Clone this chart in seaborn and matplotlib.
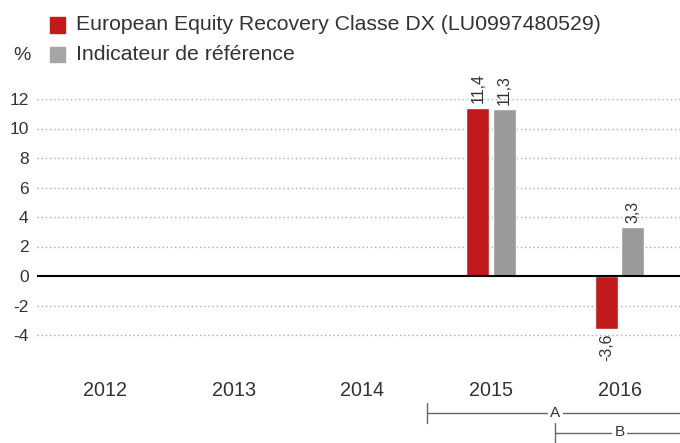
import matplotlib
matplotlib.use("Agg")
import matplotlib.pyplot as plt
import matplotlib.transforms as mtransforms
from matplotlib.patches import Rectangle
from matplotlib.lines import Line2D
import numpy as np
import pandas as pd
import seaborn as sns

years = ["2012", "2013", "2014", "2015", "2016"]
fund_name = "European Equity Recovery Classe DX (LU0997480529)"
bench_name = "Indicateur de référence"
fund_values = [np.nan, np.nan, np.nan, 11.4, -3.6]
bench_values = [np.nan, np.nan, np.nan, 11.3, 3.3]
y_ticks = [-4, -2, 0, 2, 4, 6, 8, 10, 12]
periods = [("A", 2.5, 4.5), ("B", 3.5, 4.5)]

RED = "#C21A1A"
GREY = "#9A9A9A"
TXT = "#333333"

sns.set_theme(style="white")
plt.rcParams["font.family"] = ["Liberation Sans", "DejaVu Sans"]
plt.rcParams["axes.unicode_minus"] = False

df = pd.DataFrame({
    "year": years * 2,
    "serie": [fund_name] * len(years) + [bench_name] * len(years),
    "value": fund_values + bench_values,
})

W, H = 680, 443
fig = plt.figure(figsize=(W / 100, H / 100), dpi=100)
ax_left, ax_right, ax_top, ax_bottom = 37, 680, 99, 370
ax = fig.add_axes([ax_left / W, 1 - ax_bottom / H, (ax_right - ax_left) / W, (ax_bottom - ax_top) / H])

sns.barplot(data=df.dropna(), x="year", y="value", hue="serie", order=years,
            hue_order=[fund_name, bench_name], palette=[RED, GREY],
            width=0.41, gap=0.13, ax=ax, legend=False, saturation=1)

ymin = -(ax_bottom - 276) / ((276 - ax_top) / 12)
ax.set_ylim(ymin, 12)
step = 128.75
ax.set_xlim(-0.5 - (40.6 - ax_left) / step, 4.5 - (684 - ax_right) / step)
for s in ax.spines.values():
    s.set_visible(False)
for t in y_ticks:
    if t == 0:
        ax.axhline(0, color="black", lw=1.5, zorder=3)
    else:
        ax.axhline(t, color="#AAAAAA", lw=1, ls=(0, (1, 2)), zorder=0)
ax.set_yticks(y_ticks)
ax.set_yticklabels([str(t) for t in y_ticks])
ax.tick_params(axis="y", length=0, pad=6, labelsize=12.5, labelcolor=TXT)
ax.tick_params(axis="x", length=0, pad=8, labelsize=14.2, labelcolor=TXT)
ax.set_xlabel("")
ax.set_ylabel("")

# value labels
for cont in ax.containers:
    for bar in cont:
        h = bar.get_height()
        if np.isnan(h):
            continue
        x = bar.get_x() + bar.get_width() / 2
        lab = f"{h:.1f}".replace(".", ",")
        if h >= 0:
            ax.text(x, h + 0.3, lab, rotation=90, ha="center", va="bottom",
                    fontsize=11.5, color=TXT, clip_on=False)
        else:
            ax.text(x, h - 0.3, lab, rotation=90, ha="center", va="top",
                    fontsize=11.5, color=TXT, clip_on=False)

# legend
for i, (name, col) in enumerate([(fund_name, RED), (bench_name, "#A5A5A5")]):
    yc = 25 + i * 29.5
    fig.add_artist(Rectangle((50 / W, 1 - (yc + 7.5) / H), 15 / W, 15 / H,
                             transform=fig.transFigure, color=col))
    fig.text(76 / W, 1 - yc / H, name, fontsize=15.3, color=TXT, va="center", ha="left")
fig.text(22 / W, 1 - 56 / H, "%", fontsize=14, color=TXT, va="center", ha="center")

# period markers
trans = mtransforms.blended_transform_factory(ax.transData, fig.transFigure)
for i, (lab, x0, x1) in enumerate(periods):
    yc = 413 + i * 19.5
    fig.add_artist(Line2D([x0, x1], [1 - yc / H] * 2, transform=trans, color="#666666", lw=1))
    fig.add_artist(Line2D([x0, x0], [1 - (yc - 10) / H, 1 - (yc + 10) / H], transform=trans,
                          color="#666666", lw=1))
    fig.text((x0 + x1) / 2, 1 - yc / H, lab, transform=trans, fontsize=11, color=TXT,
             ha="center", va="center", bbox=dict(facecolor="white", edgecolor="none", pad=1.5))

fig.savefig("out.png", dpi=100)
